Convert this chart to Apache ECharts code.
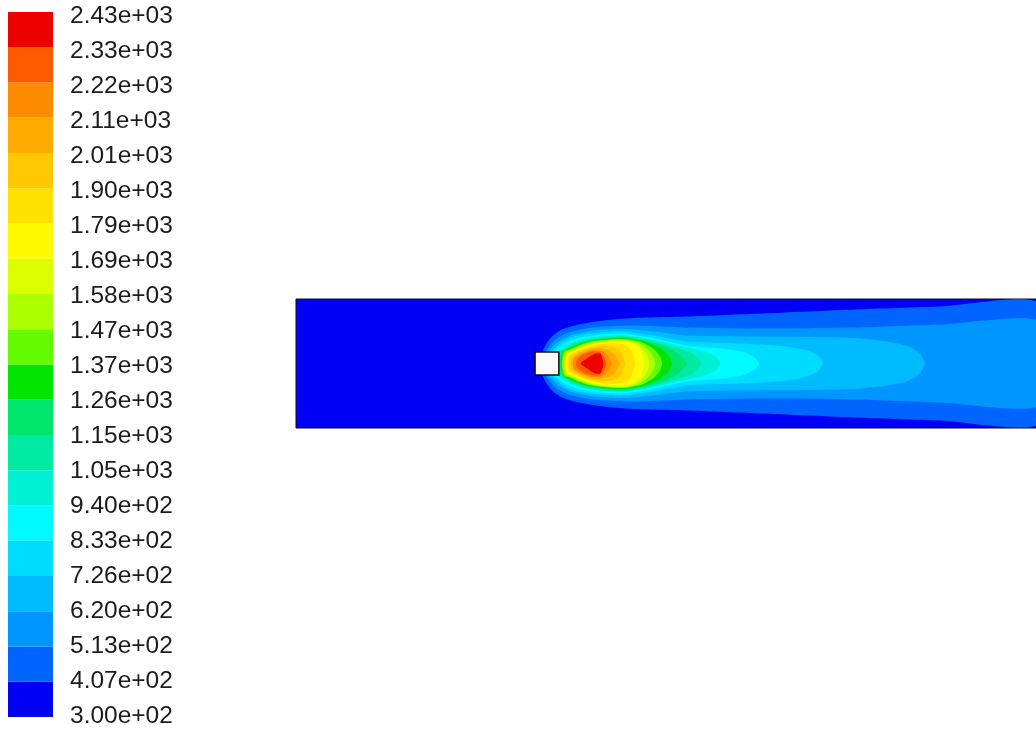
<!DOCTYPE html>
<html>
<head>
<meta charset="utf-8">
<script src="https://cdn.jsdelivr.net/npm/echarts/dist/echarts.min.js"></script>
<style>
  html, body { margin: 0; padding: 0; background: #fff; }
  #main { width: 1036px; height: 739px; }
</style>
</head>
<body>
<div id="main"></div>
<script>
// contour levels (K), 20 bands
const levels = [300, 406.6, 513.2, 619.8, 726.4, 833.0, 939.6, 1046.2, 1152.8, 1259.4, 1366.0,
  1472.6, 1579.2, 1685.8, 1792.4, 1899.0, 2005.6, 2112.2, 2218.8, 2325.4, 2432.0];

const bandColors = ['#0000f5', '#0064ff', '#0096ff', '#00bcff', '#00dcff', '#00faff', '#00f0d4',
  '#00eaa4', '#00e66c', '#00e400', '#64fa00', '#acff00', '#dcff00', '#fffa00', '#ffe100',
  '#ffc800', '#ffab00', '#ff8c00', '#ff5a00', '#ec0000'];

// upper half of each iso-line: [x, half width] measured from the channel axis
const iso407 = [[247, 0], [249, 13], [252, 19], [258, 27], [268, 34], [285, 39], [310, 43], [340, 45.5], [394, 47], [470, 50], [564, 54], [650, 57], [750, 60]];
const iso513 = [[250, 0], [252, 12], [256, 18], [263, 25], [275, 31], [295, 35.5], [320, 37.5], [345, 38], [394, 36], [470, 35], [564, 36], [650, 39], [750, 42]];
const iso620 = [[253, 0], [255, 12], [259, 17], [266, 23], [278, 28.5], [300, 33], [330, 34.5], [360, 32], [394, 28], [450, 27], [520, 26.5], [564, 25.5], [595, 22], [615, 18], [628, 11], [634, 0]];
const iso726 = [[256, 0], [258, 12], [262, 16], [268, 21.5], [280, 27], [300, 30.5], [330, 32], [360, 28], [394, 22], [450, 20], [494, 17], [515, 13], [526, 8], [531, 0]];
const iso833 = [[259, 0], [261, 12], [265, 15.5], [271, 20.5], [283, 25], [303, 28.5], [330, 30], [360, 25.5], [394, 18], [430, 15], [450, 12], [461, 7], [467, 0]];
const iso940 = [[262, 0], [264, 12], [268, 15], [275, 19.5], [287, 24], [305, 27], [330, 28.5], [360, 23.5], [394, 16], [412, 12], [423, 7], [428, 0]];
const iso1046 = [[264, 0], [266, 12], [270, 14.5], [277, 19], [289, 23], [307, 26], [330, 27.5], [360, 22], [385, 15.5], [400, 10], [409, 0]];
const iso1153 = [[266, 0], [268, 12], [272, 14.5], [279, 18.5], [291, 22.5], [309, 25.5], [330, 26.5], [355, 22.5], [375, 16], [388, 8], [394, 0]];
const iso1259 = [[267, 0], [269, 12], [274, 14.5], [281, 18], [293, 22], [311, 24.5], [330, 25.5], [350, 22.5], [366, 16], [376, 8], [379, 0]];
const iso1366 = [[268, 0], [270, 12], [276, 14], [283, 17.5], [295, 21.5], [313, 24], [332, 24.5], [348, 21.5], [360, 15], [367, 7], [369, 0]];
const iso1473 = [[269, 0], [271, 11], [277, 13.5], [285, 17], [297, 21], [315, 23.5], [333, 23.5], [346, 20.5], [355, 14], [360, 7], [362, 0]];
const iso1579 = [[270, 0], [272, 10], [279, 13], [287, 16.5], [299, 20.5], [317, 23], [333, 23], [344, 19.5], [351, 13], [355, 6], [356, 0]];
const iso1686 = [[271, 0], [273, 9], [280, 12.5], [289, 16], [301, 20], [319, 22.5], [333, 22], [342, 18.5], [348, 12], [351, 0]];
const iso1792 = [[273, 0], [275, 8], [282, 12], [291, 15.5], [303, 19], [320, 20.5], [332, 18.5], [338, 13], [342, 0]];
const iso1899 = [[275, 0], [277, 7], [284, 11.5], [293, 15], [305, 17.5], [318, 17], [327, 13], [332, 0]];
const iso2006 = [[277, 0], [279, 6], [286, 10.5], [295, 14], [305, 15.5], [316, 13], [322, 8.5], [326, 0]];
const iso2112 = [[279, 0], [281, 6], [288, 10], [297, 13], [306, 13.5], [313, 10], [318, 0]];
const iso2219 = [[282, 0], [284, 5], [290, 9.5], [298, 12], [306, 11.5], [310, 7.5], [313, 0]];
const iso2325 = [[287, 0], [294, 5.5], [302, 10], [307, 10], [309, 4.5], [310, 0]];

const isoLines = [iso407, iso513, iso620, iso726, iso833, iso940, iso1046, iso1153, iso1259, iso1366,
  iso1473, iso1579, iso1686, iso1792, iso1899, iso2006, iso2112, iso2219, iso2325];

// square obstacle [x0, x1, y0, y1]
const obstacle = [[241, 265, -11.5, 11.5]];

function fmtExp(v) {
  const parts = v.toExponential(2).split('e');
  const n = Number(parts[1]);
  return parts[0] + 'e' + (n < 0 ? '-' : '+') + String(Math.abs(n)).padStart(2, '0');
}

const myChart = echarts.init(document.getElementById('main'));

const option = {
  backgroundColor: '#fff',
  animation: false,
  grid: [
    {
      left: 296, top: 299, right: -6, height: 129,
      show: true, backgroundColor: bandColors[0], borderColor: '#0a0a30', borderWidth: 1
    },
    { left: 8, top: 12, width: 45, height: 705 },
    // the labels sit a little off the band edges, as in the original
    { left: 8, top: 16, width: 45, height: 700 }
  ],
  xAxis: [
    { type: 'value', gridIndex: 0, min: 0, max: 746, show: false },
    { type: 'value', gridIndex: 1, min: 0, max: 1, show: false },
    { type: 'value', gridIndex: 2, min: 0, max: 1, show: false }
  ],
  yAxis: [
    { type: 'value', gridIndex: 0, min: -64.5, max: 64.5, show: false },
    { type: 'value', gridIndex: 1, min: 300, max: 2432, show: false },
    {
      type: 'value', gridIndex: 2, min: 300, max: 2432, position: 'right',
      axisLine: { show: false }, axisTick: { show: false }, splitLine: { show: false },
      axisLabel: {
        customValues: levels,
        formatter: fmtExp,
        margin: 17,
        fontSize: 24.5,
        fontFamily: 'Liberation Sans',
        color: '#1c1c1c'
      }
    }
  ],
  series: [
    {
      // filled contour bands, painted from the coolest to the hottest
      type: 'custom',
      xAxisIndex: 0, yAxisIndex: 0,
      clip: true,
      data: isoLines.map((c, i) => [i + 1]),
      renderItem: function (params, api) {
        const k = api.value(0);
        const prof = isoLines[k - 1];
        const upper = prof.map(p => api.coord([p[0], p[1]]));
        const lower = prof.slice().reverse().filter(p => p[1] > 0).map(p => api.coord([p[0], -p[1]]));
        return {
          type: 'polygon',
          shape: { points: upper.concat(lower), smooth: 0.2 },
          style: { fill: bandColors[k] }
        };
      }
    },
    {
      type: 'custom',
      xAxisIndex: 0, yAxisIndex: 0,
      data: obstacle,
      renderItem: function (params, api) {
        const a = api.coord([api.value(0), api.value(3)]);
        const b = api.coord([api.value(1), api.value(2)]);
        return {
          type: 'rect',
          shape: { x: a[0], y: a[1], width: b[0] - a[0], height: b[1] - a[1] },
          style: { fill: '#fafafa', stroke: '#111', lineWidth: 1.5 }
        };
      }
    },
    {
      // colour bar
      type: 'custom',
      xAxisIndex: 1, yAxisIndex: 1,
      data: bandColors.map((c, i) => [levels[i], levels[i + 1]]),
      renderItem: function (params, api) {
        const top = api.coord([0, api.value(1)]);
        const bot = api.coord([1, api.value(0)]);
        return {
          type: 'rect',
          shape: { x: top[0], y: top[1], width: bot[0] - top[0], height: bot[1] - top[1] },
          style: { fill: bandColors[params.dataIndex] }
        };
      }
    }
  ]
};

myChart.setOption(option);
</script>
</body>
</html>
